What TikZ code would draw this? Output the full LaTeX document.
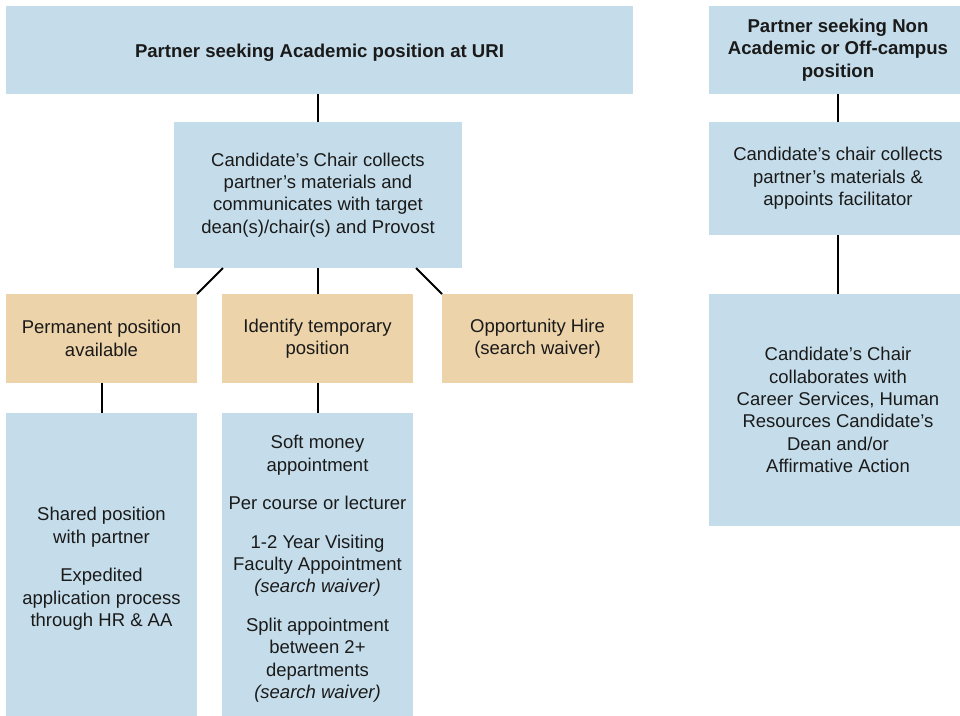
\documentclass[tikz,border=0pt]{standalone}
\usepackage{fontspec}
\setmainfont{Liberation Sans}
\usetikzlibrary{calc}
\definecolor{boxblue}{HTML}{C5DDEA}
\definecolor{boxtan}{HTML}{ECD3AA}
\definecolor{ink}{HTML}{1A1A1A}
\tikzset{
  base/.style={inner sep=0pt, outer sep=0pt, align=center, text=ink,
    font=\fontsize{18.5}{22.4}\selectfont,
    execute at begin node={\rule{0pt}{19pt}}},
  bluebox/.style={base, fill=boxblue},
  tanbox/.style={base, fill=boxtan},
  boldtext/.style={font=\bfseries\fontsize{18.6}{22.4}\selectfont},
  conn/.style={draw=black, line width=2pt}
}
\begin{document}
\begin{tikzpicture}[x=1pt,y=-1pt]
\useasboundingbox (0,0) rectangle (960,715);
\fill[white] (0,0) rectangle (960,715);

\node[bluebox, boldtext, minimum width=627pt, minimum height=88pt] (top) at (319.5,50) {Partner seeking Academic position at URI};
\node[bluebox, boldtext, minimum width=258pt, minimum height=88pt] (topR) at (838,50) {Partner seeking Non\\Academic or Off-campus\\position};

\node[bluebox, minimum width=288pt, minimum height=146pt] (chair) at (318,195) {Candidate’s Chair collects\\partner’s materials and\\communicates with target\\dean(s)/chair(s) and Provost};
\node[bluebox, minimum width=258pt, minimum height=113pt] (chairR) at (838,178.5) {Candidate’s chair collects\\partner’s materials \&\\appoints facilitator};

\node[tanbox, minimum width=191pt, minimum height=89pt] (perm) at (101.5,338.5) {Permanent position\\available};
\node[tanbox, minimum width=191pt, minimum height=89pt] (ident) at (317.5,338.5) {Identify temporary\\position};
\node[tanbox, minimum width=191pt, minimum height=89pt] (opp) at (537.5,338.5) {Opportunity Hire\\(search waiver)};

\node[bluebox, minimum width=258pt, minimum height=232pt] (collab) at (838,410) {Candidate’s Chair\\collaborates with\\Career Services, Human\\Resources Candidate’s\\Dean and/or\\Affirmative Action};

\node[bluebox, minimum width=191pt, minimum height=312pt] (shared) at (101.5,569) {Shared position\\with partner\\[16pt]Expedited\\application process\\through HR \& AA};
\node[bluebox, minimum width=191pt, minimum height=312pt] (soft) at (317.5,569) {Soft money\\appointment\\[16pt]Per course or lecturer\\[16pt]1-2 Year Visiting\\Faculty Appointment\\\textit{(search waiver)}\\[16pt]Split appointment\\between 2+\\departments\\\textit{(search waiver)}};

\draw[conn] (chair.north) -- (chair.north |- top.south);
\draw[conn] ($(chair.south west)+(49,0)$) -- (perm.north east);
\draw[conn] (ident.north) -- (ident.north |- chair.south);
\draw[conn] ($(chair.south east)+(-46,0)$) -- (opp.north west);
\draw[conn] (perm.south) -- (shared.north);
\draw[conn] (ident.south) -- (soft.north);
\draw[conn] (topR.south) -- (chairR.north);
\draw[conn] (chairR.south) -- (collab.north);
\end{tikzpicture}
\end{document}
